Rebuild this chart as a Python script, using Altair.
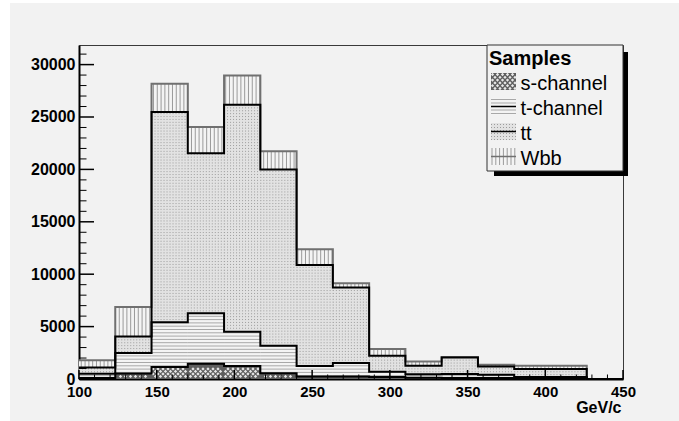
import altair as alt
import numpy as np
import pandas as pd

# ---------------- data ----------------
bin_edges = [100.0, 123.33, 146.67, 170.0, 193.33, 216.67, 240.0, 263.33,
             286.67, 310.0, 333.33, 356.67, 380.0, 403.33, 426.67, 450.0]
series_names = ["s-channel", "t-channel", "tt", "Wbb"]
s_channel = [100, 530, 1150, 1450, 1250, 540, 250, 230, 200, 120, 100, 100, 80, 80, 0]
t_channel = [400, 1950, 4270, 4830, 3270, 2640, 980, 1300, 500, 330, 375, 310, 120, 110, 0]
tt_vals = [600, 1585, 20060, 15250, 21650, 16820, 9650, 7210, 1520, 820, 1585, 790, 760, 770, 0]
wbb_vals = [680, 2805, 2700, 2520, 2800, 1720, 1490, 385, 640, 410, 40, 165, 310, 310, 0]
x_tick_labels = [100, 150, 200, 250, 300, 350, 400, 450]
y_tick_labels = [0, 5000, 10000, 15000, 20000, 25000, 30000]
x_title = "GeV/c"
legend_title = "Samples"

# ---------------- styling ----------------
W, H = 544, 334
YMAX = 31870
BG = "#f2f2f2"
fill_colors = ["#5e5e5e", "#f4f4f4", "#e2e2e2", "#f4f4f4"]
FONT = "Liberation Sans"

vals = np.array([s_channel, t_channel, tt_vals, wbb_vals], dtype=float)
cum = np.cumsum(vals, axis=0)
low = np.vstack([np.zeros(vals.shape[1]), cum[:-1]])
lo = np.array(bin_edges[:-1])
hi = np.array(bin_edges[1:])
nb = len(lo)
PXX = 350 / W      # data units per pixel, x
PXY = YMAX / H     # data units per pixel, y

xs = alt.Scale(domain=[100, 450], nice=False, zero=False)
ys = alt.Scale(domain=[0, YMAX], nice=False, zero=True)

x_axis = alt.Axis(values=x_tick_labels, format="d", labelFont=FONT, labelFontWeight="bold",
                  labelFontSize=15, labelColor="black", labelPadding=5, labelFlush=False,
                  labelOverlap=False, ticks=False, tickSize=0, domain=True, domainColor="black",
                  domainWidth=2, grid=False, title=x_title, titleFont=FONT, titleFontSize=16,
                  titleFontWeight="bold", titleColor="black", titleX=542, titleY=28,
                  titleAlign="right", titleBaseline="middle", titleAngle=0)
y_axis = alt.Axis(values=y_tick_labels, format="d", labelFont=FONT, labelFontWeight="bold",
                  labelFontSize=16, labelColor="black", labelPadding=4, labelFlush=False,
                  labelOverlap=False, ticks=False, tickSize=0, domain=True, domainColor="black",
                  domainWidth=2, grid=False, title="")


def X(f):
    return alt.X(f, scale=xs, axis=x_axis)


def Y(f, **kw):
    return alt.Y(f, scale=ys, axis=y_axis, **kw)


# stepped areas (fills)
area_rows = []
for j, name in enumerate(series_names):
    for k, e in enumerate(bin_edges):
        i = min(k, nb - 1)
        area_rows.append({"series": name, "ord": j, "x": e, "y": low[j, i], "y2": cum[j, i]})
area_df = pd.DataFrame(area_rows)

fills = alt.Chart(area_df).mark_area(interpolate="step-after", strokeWidth=0).encode(
    x=X("x:Q"),
    y=Y("y:Q", stack=None),
    y2="y2",
    fill=alt.Fill("series:N", scale=alt.Scale(domain=series_names, range=fill_colors), legend=None),
    order="ord:Q",
)

# ---- hatching (decoration) ----
# s-channel: cross-hatch -> white diamonds on dark
c_rows = []
sp_c = 5.0
for r in range(0, 4):
    yv = (2.6 + r * sp_c / 2) * PXY
    shift = (r % 2) * sp_c / 2
    for xv in np.arange(100 + (1.5 + shift) * PXX, 450, sp_c * PXX):
        i = int(np.searchsorted(hi, xv))
        if i >= nb:
            continue
        if yv < cum[0, i] - 1.2 * PXY and abs(xv - lo[i]) > 1.2 * PXX and abs(hi[i] - xv) > 1.2 * PXX:
            c_rows.append({"x": xv, "y": yv})
s_hatch = alt.Chart(pd.DataFrame(c_rows)).mark_point(
    shape="diamond", filled=True, color="#e8e8e8", size=11, opacity=1, strokeWidth=0).encode(
    x=X("x:Q"), y=Y("y:Q"))

sp_h = 3.3 * PXY
h_rows = []
for i in range(nb):
    for y in np.arange(sp_h, cum[1, i], sp_h):
        if y > cum[0, i] + 0.2 * sp_h:
            h_rows.append({"x": lo[i], "x2": hi[i], "y": y})
t_hatch = alt.Chart(pd.DataFrame(h_rows)).mark_rule(color="#a8a8a8", strokeWidth=1).encode(
    x=X("x:Q"), x2="x2", y=Y("y:Q"))

sp_d = 2.9 * PXY
d_rows = []
for i in range(nb):
    for y in np.arange(sp_d * 0.5, cum[2, i], sp_d):
        if y > cum[1, i] + 0.3 * sp_d:
            d_rows.append({"x": lo[i], "x2": hi[i], "y": y})
tt_hatch = alt.Chart(pd.DataFrame(d_rows)).mark_rule(color="#9c9c9c", strokeWidth=1, strokeDash=[1, 2]).encode(
    x=X("x:Q"), x2="x2", y=Y("y:Q"))

sp_v = 3.8 * PXX
v_rows = []
for xv in np.arange(100 + sp_v * 0.6, 450, sp_v):
    i = int(np.searchsorted(hi, xv))
    if i >= nb:
        continue
    if cum[3, i] - cum[2, i] > 1:
        v_rows.append({"x": xv, "y": cum[2, i], "y2": cum[3, i]})
w_hatch = alt.Chart(pd.DataFrame(v_rows)).mark_rule(color="#9a9a9a", strokeWidth=1).encode(
    x=X("x:Q"), y=Y("y:Q"), y2="y2")

# outlines
line_rows = []
for j, name in enumerate(series_names):
    for k, e in enumerate(bin_edges):
        i = min(k, nb - 1)
        line_rows.append({"series": name, "x": e, "y": cum[j, i]})
line_df = pd.DataFrame(line_rows)
wbb_line = alt.Chart(line_df).transform_filter(alt.datum.series == "Wbb").mark_line(
    interpolate="step-after", color="#707070", strokeWidth=2).encode(x=X("x:Q"), y=Y("y:Q"))
other_lines = alt.Chart(line_df).transform_filter(alt.datum.series != "Wbb").mark_line(
    interpolate="step-after", color="black", strokeWidth=2).encode(
    x=X("x:Q"), y=Y("y:Q"), detail="series:N")

# axis ticks (inside the frame, ROOT style)
one = pd.DataFrame({"a": [0]})
y_minor = pd.DataFrame({"y": [v for v in range(0, 31001, 1000) if v % 5000]})
y_major = pd.DataFrame({"y": y_tick_labels})
x_minor = pd.DataFrame({"x": [v for v in range(100, 451, 10) if v % 50]})
x_major = pd.DataFrame({"x": x_tick_labels})
yt_min = alt.Chart(y_minor).mark_rule(color="black", strokeWidth=1).encode(
    y=Y("y:Q"), x=alt.value(0), x2=alt.value(7.5))
yt_maj = alt.Chart(y_major).mark_rule(color="black", strokeWidth=1.5).encode(
    y=Y("y:Q"), x=alt.value(0), x2=alt.value(15))
xt_min = alt.Chart(x_minor).mark_rule(color="black", strokeWidth=1).encode(
    x=X("x:Q"), y=alt.value(H), y2=alt.value(H - 4.5))
xt_maj = alt.Chart(x_major).mark_rule(color="black", strokeWidth=1.5).encode(
    x=X("x:Q"), y=alt.value(H), y2=alt.value(H - 9))

# white page strips (outside the grey pad)
strip_l = alt.Chart(one).mark_rect(color="white").encode(
    x=alt.value(-79), x2=alt.value(-69), y=alt.value(-45), y2=alt.value(H + 42))
strip_t = alt.Chart(one).mark_rect(color="white").encode(
    x=alt.value(-79), x2=alt.value(W + 56), y=alt.value(-45), y2=alt.value(-42))

# legend (manual, ROOT TLegend look)
LX0, LX1, LY0, LY1 = 408, 544, 0, 126
shadow = alt.Chart(one).mark_rect(color="black").encode(
    x=alt.value(LX0 + 7), x2=alt.value(LX1 + 5), y=alt.value(LY0 + 7), y2=alt.value(LY1 + 5))
lbox = alt.Chart(one).mark_rect(fill=BG, stroke="#333333", strokeWidth=1).encode(
    x=alt.value(LX0), x2=alt.value(LX1), y=alt.value(LY0), y2=alt.value(LY1))
ltitle = alt.Chart(one).mark_text(align="left", baseline="alphabetic", font=FONT, fontSize=20,
                                  fontWeight="bold", color="black").encode(
    x=alt.value(LX0 + 2), y=alt.value(19.5), text=alt.value(legend_title))

leg_rows = []
for j, name in enumerate(series_names):
    base = 45 + 25 * j
    leg_rows.append({"label": name, "tx": LX0 + 33.5, "ty": base,
                     "sx": LX0 + 4, "sx2": LX0 + 29, "sy": base - 17, "sy2": base})
leg_df = pd.DataFrame(leg_rows)
lsw = alt.Chart(leg_df).mark_rect().encode(
    x=alt.X("sx:Q", scale=None), x2="sx2",
    y=alt.Y("sy:Q", scale=None), y2="sy2",
    fill=alt.Fill("label:N", scale=alt.Scale(domain=series_names, range=fill_colors), legend=None))
ltext = alt.Chart(leg_df).mark_text(align="left", baseline="alphabetic", font=FONT, fontSize=20,
                                    color="black").encode(
    x=alt.X("tx:Q", scale=None), y=alt.Y("ty:Q", scale=None), text="label:N")

sw_h, sw_v, sw_d, sw_c, sw_p = [], [], [], [], []
for j, name in enumerate(series_names):
    base = 45 + 25 * j
    cy = base - 8.5
    if name == "s-channel":
        for r in range(6):
            shift = (r % 2) * 2.5
            for xo in np.arange(LX0 + 5.5 + shift, LX0 + 28.5, 5):
                sw_p.append({"x": xo, "y": cy - 7 + r * 2.8})
    if name == "t-channel":
        for off in (-7, -3.5, 3.5, 7):
            sw_h.append({"x": LX0 + 4, "x2": LX0 + 29, "y": cy + off})
    if name == "tt":
        for off in (-7, -4, -1, 2, 5, 8):
            sw_d.append({"x": LX0 + 4, "x2": LX0 + 29, "y": cy + off})
    if name == "Wbb":
        for xo in np.arange(LX0 + 5, LX0 + 29, 3.8):
            sw_v.append({"x": xo, "y": cy - 8.5, "y2": cy + 8.5})
    if name != "s-channel":
        sw_c.append({"x": LX0 + 4, "x2": LX0 + 29, "y": cy, "c": "#707070" if name == "Wbb" else "black"})
lsw_p = alt.Chart(pd.DataFrame(sw_p)).mark_point(
    shape="diamond", filled=True, color="#e8e8e8", size=11, opacity=1, strokeWidth=0).encode(
    x=alt.X("x:Q", scale=None), y=alt.Y("y:Q", scale=None))
lsw_h = alt.Chart(pd.DataFrame(sw_h)).mark_rule(color="#a8a8a8", strokeWidth=1).encode(
    x=alt.X("x:Q", scale=None), x2="x2", y=alt.Y("y:Q", scale=None))
lsw_d = alt.Chart(pd.DataFrame(sw_d)).mark_rule(color="#9c9c9c", strokeWidth=1, strokeDash=[1, 2]).encode(
    x=alt.X("x:Q", scale=None), x2="x2", y=alt.Y("y:Q", scale=None))
lsw_v = alt.Chart(pd.DataFrame(sw_v)).mark_rule(color="#9a9a9a", strokeWidth=1).encode(
    x=alt.X("x:Q", scale=None), y=alt.Y("y:Q", scale=None), y2="y2")
lsw_c = alt.Chart(pd.DataFrame(sw_c)).mark_rule(strokeWidth=1.5).encode(
    x=alt.X("x:Q", scale=None), x2="x2", y=alt.Y("y:Q", scale=None),
    color=alt.Color("c:N", scale=None, legend=None))

chart = alt.layer(
    fills, s_hatch, t_hatch, tt_hatch, w_hatch, wbb_line, other_lines,
    yt_min, yt_maj, xt_min, xt_maj, strip_l, strip_t,
    shadow, lbox, ltitle, lsw, lsw_p, lsw_h, lsw_d, lsw_v, lsw_c, ltext,
).resolve_scale(fill="independent").properties(
    width=W, height=H,
    autosize=alt.AutoSizeParams(type="none"),
    padding={"left": 79, "top": 45, "right": 56, "bottom": 42},
    background=BG,
).configure_view(stroke="#3a3a3a", strokeWidth=1, fill=BG)

chart.save("out.html", embed_options={"renderer": "svg", "actions": False})
